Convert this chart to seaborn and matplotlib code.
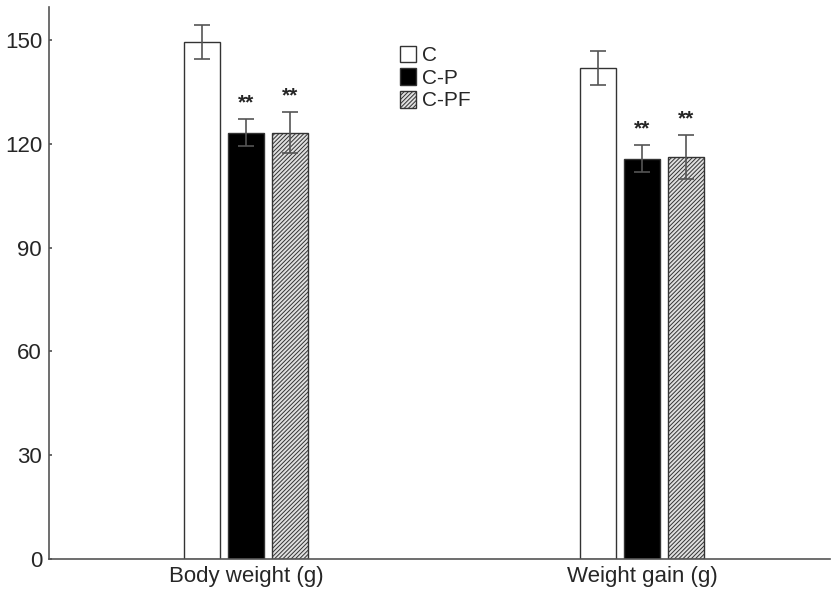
import pandas as pd
import matplotlib
matplotlib.use('Agg')
import matplotlib.pyplot as plt
import seaborn as sns
from matplotlib.patches import Patch

# --- data ---
measures = ['Body weight (g)', 'Weight gain (g)']
groups = ['C', 'C-P', 'C-PF']
means_c = [149.5, 141.8]
means_cp = [123.2, 115.7]
means_cpf = [123.2, 116.2]
err_c = [4.9, 4.9]
err_cp = [3.8, 3.8]
err_cpf = [6.0, 6.3]
stars = ['', '**', '**']

rows = []
for g, m, e in zip(groups, [means_c, means_cp, means_cpf], [err_c, err_cp, err_cpf]):
    for meas, v, s in zip(measures, m, e):
        rows.append({'measure': meas, 'group': g, 'value': v, 'sd': s})
df = pd.DataFrame(rows)

sns.set_theme(style='ticks')
plt.rcParams['font.family'] = ['Liberation Sans', 'DejaVu Sans']
plt.rcParams['hatch.color'] = '#444444'
plt.rcParams['hatch.linewidth'] = 0.7

fig = plt.figure(figsize=(8.31, 5.92), dpi=100)
ax = fig.add_axes([0.059, 0.0557, 0.94, 0.9325])

sns.barplot(data=df, x='measure', y='value', hue='group', order=measures,
            hue_order=groups, width=0.333, gap=0.18, errorbar=None,
            palette=['white', 'black', 'white'], edgecolor='black',
            linewidth=1.0, legend=False, ax=ax)

face = {'C': 'white', 'C-P': 'black', 'C-PF': '#e0e0e0'}
hatch = {'C': '', 'C-P': '', 'C-PF': '////////'}

# patches come hue by hue, each with one bar per measure
for i, g in enumerate(groups):
    sub = df[df['group'] == g].set_index('measure').loc[measures]
    for j, meas in enumerate(measures):
        p = ax.patches[i * len(measures) + j]
        p.set_facecolor(face[g])
        p.set_hatch(hatch[g])
        p.set_edgecolor('#333333')
        cx = p.get_x() + p.get_width() / 2
        v = sub['value'].iloc[j]
        s = sub['sd'].iloc[j]
        ax.errorbar(cx, v, yerr=s, fmt='none', ecolor='#555555',
                    elinewidth=1.2, capsize=5.5, capthick=1.2, zorder=5)
        if stars[i]:
            ax.text(cx, v + s + 2.0, stars[i], ha='center', va='bottom',
                    fontsize=15, fontweight='bold')

ax.set_ylim(0, 159.5)
ax.set_xlim(-0.497, 1.475)
ax.set_yticks([0, 30, 60, 90, 120, 150])
ax.set_xlabel('')
ax.set_ylabel('')
ax.tick_params(axis='y', direction='in', length=2, labelsize=16, pad=5, color='#555555')
ax.tick_params(axis='x', length=0, labelsize=16, pad=5)
for side in ['top', 'right']:
    ax.spines[side].set_visible(False)
for side in ['left', 'bottom']:
    ax.spines[side].set_color('#555555')
    ax.spines[side].set_linewidth(1.2)

handles = [Patch(facecolor=face[g], edgecolor='#333333', hatch=hatch[g], label=g)
           for g in groups]
ax.legend(handles=handles, loc='upper left', bbox_to_anchor=(0.439, 0.945),
          frameon=False, fontsize=15, handlelength=0.75, handleheight=0.85,
          handletextpad=0.3, labelspacing=0.15, borderaxespad=0)

fig.savefig('out.png', dpi=100)
